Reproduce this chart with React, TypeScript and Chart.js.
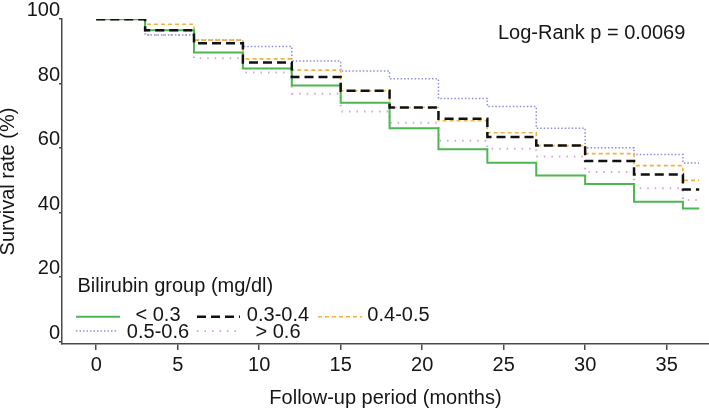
import { useEffect, useRef } from "react";
import { Chart, registerables } from "chart.js";

Chart.register(...registerables);

// Follow-up time points (months) where the survival estimates change
const months = [0, 3, 6, 9, 12, 15, 18, 21, 24, 27, 30, 33, 36, 37];

// Survival rate (%) per bilirubin group
const groupLt03 = [100, 96.6, 89.7, 84.7, 79.4, 74.1, 66.2, 59.7, 55.5, 51.5, 48.9, 43.4, 41.3, 41.3];
const group03to04 = [100, 96.6, 92.5, 86.6, 82.1, 77.8, 72.6, 69.1, 63.5, 60.8, 56.0, 51.8, 47.2, 47.2];
const group04to05 = [100, 98.4, 93.5, 87.7, 84.2, 77.8, 72.6, 68.5, 64.8, 60.8, 58.3, 54.6, 50.0, 50.0];
const group05to06 = [100, 95.1, 93.5, 91.5, 87.0, 83.9, 81.5, 75.4, 72.9, 66.2, 60.1, 58.0, 55.4, 55.4];
const groupGt06 = [100, 95.1, 87.9, 83.5, 76.9, 71.4, 67.9, 62.3, 59.8, 57.4, 52.6, 47.6, 43.9, 43.9];

const groupLabels = ["< 0.3", "0.3-0.4", "0.4-0.5", "0.5-0.6", "> 0.6"];
const xTicks = [0, 5, 10, 15, 20, 25, 30, 35];
const yTicks = [0, 20, 40, 60, 80, 100];

const FONT = "'Liberation Sans', Arial, sans-serif";
const TEXT = "#151515";
const AXIS = "#4a4a4a";

type Style = { color: string; width: number; dash: number[] };
const styles: Style[] = [
  { color: "#4cb650", width: 2, dash: [] },
  { color: "#111111", width: 2.5, dash: [9, 5] },
  { color: "#f2b43c", width: 1.6, dash: [4, 3] },
  { color: "#8d90d8", width: 1.5, dash: [1.5, 2] },
  { color: "#dba3d8", width: 2, dash: [1.5, 6] },
];

const toPoints = (vals: number[]) => months.map((m, i) => ({ x: m, y: vals[i] }));

const legendPlugin = {
  id: "kmLegend",
  afterDraw(chart: Chart) {
    const ctx = chart.ctx;
    ctx.save();
    ctx.fillStyle = TEXT;
    ctx.font = `20px ${FONT}`;
    ctx.textBaseline = "alphabetic";
    ctx.textAlign = "left";
    ctx.fillText("Log-Rank p = 0.0069", 498, 39);
    ctx.fillText("Bilirubin group (mg/dl)", 77.5, 292);

    const items = [
      { i: 0, x0: 76, x1: 120, cx: 158, ly: 316.7, by: 321 },
      { i: 1, x0: 197, x1: 240, cx: 278, ly: 316.7, by: 321 },
      { i: 2, x0: 318, x1: 362, cx: 398.5, ly: 316.7, by: 321 },
      { i: 3, x0: 76, x1: 118, cx: 158, ly: 331, by: 338 },
      { i: 4, x0: 197, x1: 240, cx: 278, ly: 331, by: 338 },
    ];
    for (const it of items) {
      const s = styles[it.i];
      ctx.beginPath();
      ctx.strokeStyle = s.color;
      ctx.lineWidth = s.width;
      ctx.setLineDash(s.dash);
      ctx.moveTo(it.x0, it.ly);
      ctx.lineTo(it.x1, it.ly);
      ctx.stroke();
      ctx.setLineDash([]);
      ctx.textAlign = "center";
      ctx.fillStyle = TEXT;
      ctx.fillText(groupLabels[it.i], it.cx, it.by);
    }
    ctx.restore();
  },
};

export default function App() {
  const ref = useRef<HTMLCanvasElement | null>(null);

  useEffect(() => {
    if (!ref.current) return;
    const series = [groupLt03, group03to04, group04to05, group05to06, groupGt06];
    const datasets = series.map((vals, i) => ({
      label: groupLabels[i],
      data: toPoints(vals),
      borderColor: styles[i].color,
      borderWidth: styles[i].width,
      borderDash: styles[i].dash,
      stepped: "before" as const,
      pointRadius: 0,
      fill: false,
      tension: 0,
    }));
    // draw black dashed line on top, then green, orange, blue, pink
    const ordered = [datasets[1], datasets[0], datasets[2], datasets[3], datasets[4]];

    const chart = new Chart(ref.current, {
      type: "line",
      data: { datasets: ordered as any },
      options: {
        animation: false,
        responsive: false,
        layout: { padding: { top: 19, left: 0, right: 0, bottom: 0 } },
        plugins: { legend: { display: false }, tooltip: { enabled: false } },
        scales: {
          x: {
            type: "linear",
            min: -2.1,
            max: 37.6,
            afterBuildTicks: (s: any) => {
              s.ticks = xTicks.map((v) => ({ value: v }));
            },
            afterFit: (s: any) => {
              s.height = 66;
            },
            grid: { display: true, drawOnChartArea: false, drawTicks: true, tickLength: 6, color: AXIS, lineWidth: 1.5 },
            border: { display: true, color: AXIS, width: 1.5 },
            ticks: {
              font: { size: 20, family: FONT },
              color: TEXT,
              padding: 3,
              maxRotation: 0,
              callback: (v: any) => String(v),
            },
            title: {
              display: true,
              text: "Follow-up period (months)",
              font: { size: 20, family: FONT, lineHeight: 1 },
              color: TEXT,
              padding: { top: 0, bottom: 2 },
            },
          },
          y: {
            type: "linear",
            min: -0.72,
            max: 100.05,
            afterBuildTicks: (s: any) => {
              s.ticks = yTicks.map((v) => ({ value: v }));
            },
            afterFit: (s: any) => {
              s.width = 62;
            },
            grid: { display: true, drawOnChartArea: false, drawTicks: true, tickLength: 3, color: AXIS, lineWidth: 1.5 },
            border: { display: true, color: AXIS, width: 1.5 },
            ticks: {
              font: { size: 20, family: FONT },
              color: TEXT,
              padding: -1,
              labelOffset: -8.5,
              callback: (v: any) => String(v),
            },
            title: {
              display: true,
              text: "Survival rate (%)",
              font: { size: 20, family: FONT, lineHeight: 0.8 },
              color: TEXT,
              padding: { top: 0, bottom: 0 },
            },
          },
        },
      },
      plugins: [legendPlugin],
    });
    return () => chart.destroy();
  }, []);

  return (
    <div style={{ position: "fixed", left: 0, top: 0, width: 709, height: 410, background: "#fff" }}>
      <canvas ref={ref} width={709} height={410} style={{ display: "block", width: 709, height: 410 }} />
    </div>
  );
}
